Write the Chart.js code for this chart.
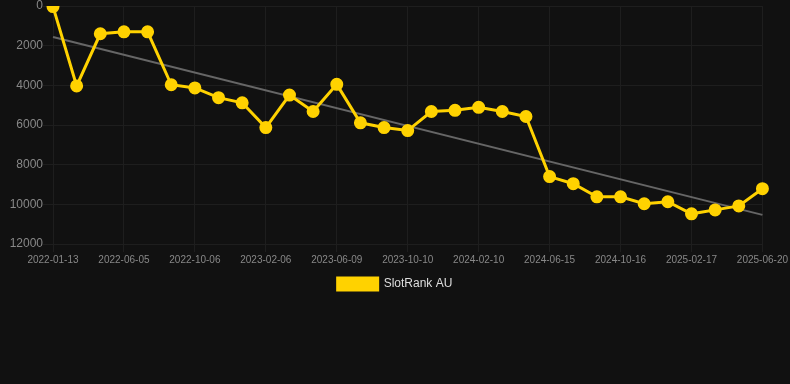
<!DOCTYPE html>
<html>
<head>
<meta charset="utf-8">
<script src="https://cdn.jsdelivr.net/npm/chart.js@4"></script>
<style>
  html, body { margin: 0; padding: 0; background: #111111; }
  #wrap { width: 790px; height: 300px; }
</style>
</head>
<body>
<div id="wrap"><canvas id="rank_chart"></canvas></div>
<script>
// dates on the x axis (only every third one shows)
var dates = [
  "2022-01-13", "2022-03-01", "2022-04-18", "2022-06-05", "2022-07-16", "2022-08-26",
  "2022-10-06", "2022-11-16", "2022-12-27", "2023-02-06", "2023-03-19", "2023-04-29",
  "2023-06-09", "2023-07-20", "2023-08-30", "2023-10-10", "2023-11-20", "2023-12-31",
  "2024-02-10", "2024-03-22", "2024-05-03", "2024-06-15", "2024-07-26", "2024-09-05",
  "2024-10-16", "2024-11-26", "2025-01-07", "2025-02-17", "2025-03-30", "2025-05-10",
  "2025-06-20"
];

// rank values
var rankAU = [
  30, 4030, 1400, 1300, 1300, 3970, 4130, 4620, 4880, 6130, 4490, 5320,
  3950, 5890, 6130, 6280, 5320, 5260, 5110, 5320, 5570, 8600, 8960, 9620,
  9620, 9970, 9870, 10480, 10280, 10080, 9210
];

// trend line end points
var trendStart = 1560;
var trendEnd = 10530;

var yTicks = { min: 0, max: 12000, step: 2000 };

var trendData = dates.map(function (d, i) {
  if (i === 0) return trendStart;
  if (i === dates.length - 1) return trendEnd;
  return null;
});

var chart = new Chart(document.getElementById('rank_chart'), {
  type: 'line',
  data: {
    labels: dates,
    datasets: [
      {
        label: 'SlotRank AU',
        data: rankAU,
        borderColor: '#FFD200',
        backgroundColor: '#FFD200',
        borderWidth: 3,
        pointRadius: 5,
        pointHoverRadius: 5,
        pointBackgroundColor: '#FFD200',
        pointBorderColor: '#FFD200',
        tension: 0,
        order: 1
      },
      {
        label: 'trend',
        data: trendData,
        spanGaps: true,
        borderColor: '#666666',
        borderWidth: 2,
        pointRadius: 0,
        pointHoverRadius: 0,
        tension: 0,
        order: 2
      }
    ]
  },
  options: {
    responsive: true,
    maintainAspectRatio: false,
    animation: false,
    layout: { autoPadding: false },
    plugins: {
      legend: {
        position: 'bottom',
        labels: {
          color: '#dddddd',
          font: { size: 12, family: 'Liberation Sans, Arial, sans-serif' },
          boxWidth: 40,
          boxHeight: 12,
          filter: function (item) { return item.text !== 'trend'; }
        }
      },
      tooltip: { enabled: false }
    },
    scales: {
      x: {
        offset: false,
        grid: { color: '#1e1e1e', tickLength: 8 },
        border: { color: '#1e1e1e' },
        ticks: {
          color: '#888888',
          font: { size: 10, family: 'Liberation Sans, Arial, sans-serif' },
          maxRotation: 0,
          autoSkip: false,
          padding: 2,
          callback: function (val, i) { return i % 3 === 0 ? dates[i] : null; }
        }
      },
      y: {
        reverse: true,
        min: yTicks.min,
        max: yTicks.max,
        afterFit: function (scale) { scale.width = 53; },
        grid: { color: '#1e1e1e', tickLength: 10 },
        border: { color: '#1e1e1e' },
        ticks: {
          stepSize: yTicks.step,
          color: '#888888',
          font: { size: 12, family: 'Liberation Sans, Arial, sans-serif', lineHeight: 1 },
          padding: 0,
          callback: function (val) { return String(val); }
        }
      }
    }
  }
});
</script>
</body>
</html>
